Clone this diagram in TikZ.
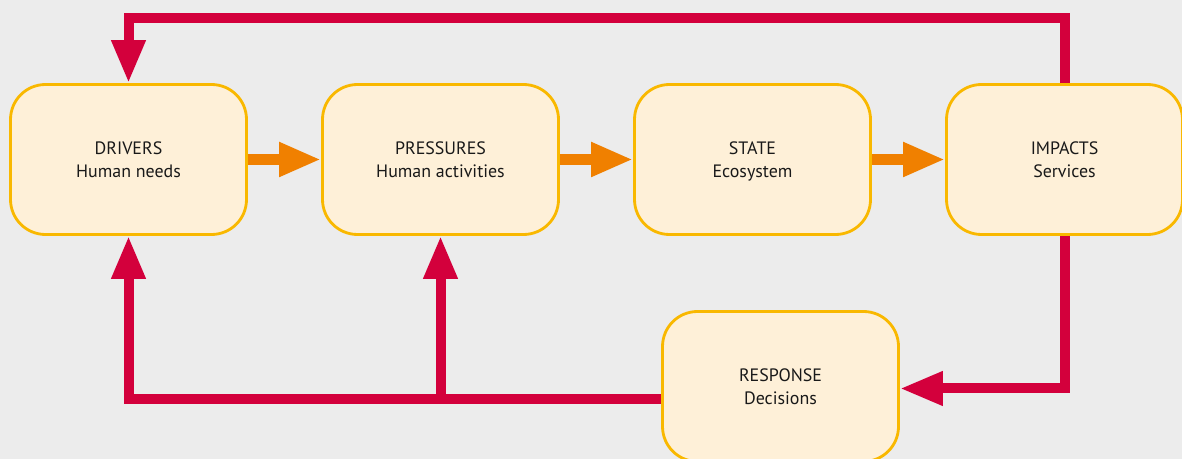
\documentclass[tikz,border=0pt]{standalone}
\usepackage{fontspec}
\setmainfont{PT Sans}
\usepackage{tikz}
\usetikzlibrary{arrows.meta}

\definecolor{bgray}{HTML}{ECECEC}
\definecolor{boxfill}{HTML}{FEF0D8}
\definecolor{boxline}{HTML}{F9B800}
\definecolor{flowor}{HTML}{F08000}
\definecolor{loopred}{HTML}{D3003C}
\newcommand{\stagestrut}{\rule{0pt}{11.4pt}}

\begin{document}
\begin{tikzpicture}[thick]
      \tikzstyle{every node}=[font=\fontsize{10.2}{13}\selectfont, text=black!90]
      \tikzstyle{stage}=[draw=boxline, line width=1.6pt, fill=boxfill, rounded corners=0.7cm,
        minimum width=4.72cm, minimum height=3.0cm, align=center]
      \tikzstyle{flow}=[draw=flowor, line width=0.22cm, -{Triangle[length=0.84cm, width=0.64cm]}]
      \tikzstyle{loop}=[draw=loopred, line width=0.2cm, -{Triangle[length=0.86cm, width=0.64cm]}]
      \fill[bgray] (0, 0) rectangle (23.64, 9.18);
      \useasboundingbox (0, 0) rectangle (23.64, 9.18);
      \node [stage] (d) at (2.57, 5.99) {\stagestrut DRIVERS\\Human needs\strut};
      \node [stage] (p) at (8.81, 5.99) {\stagestrut PRESSURES\\Human activities\strut};
      \node [stage] (s) at (15.05, 5.99) {\stagestrut STATE\\Ecosystem\strut};
      \node [stage] (i) at (21.29, 5.99) {\stagestrut IMPACTS\\Services\strut};
      \node [stage] (r) at (15.61, 1.45) {\stagestrut RESPONSE\\Decisions\strut};
      \coordinate (top) at (2.57, 8.82);
      \coordinate (rout) at ([yshift=-0.26cm]r.west);
      \draw[flow] (d) -- (p);
      \draw[flow] (p) -- (s);
      \draw[flow] (s) -- (i);
      \draw[loop] (i.north) |- (top) -- (d.north);
      \draw[loop] (i.south) |- ([yshift=-0.04cm]r.east);
      \draw[loop] (rout) -| (d.south);
      \draw[loop] (p.south |- rout) -- (p.south);
    \end{tikzpicture}
\end{document}
